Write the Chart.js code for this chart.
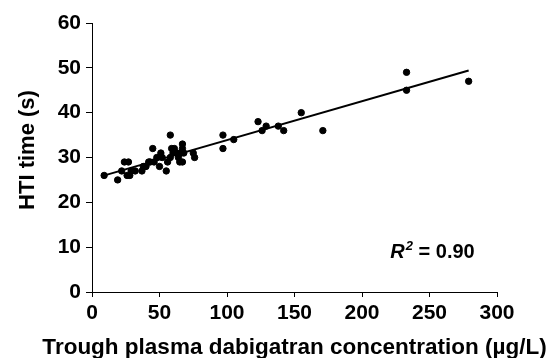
<!DOCTYPE html>
<html>
<head>
<meta charset="utf-8">
<script src="https://cdn.jsdelivr.net/npm/chart.js@4.4.1/dist/chart.umd.min.js"></script>
<style>
    html, body { margin: 0; padding: 0; background: #fff; }
    #wrap { width: 554px; height: 358px; }
</style>
</head>
<body>
<div id="wrap"><canvas id="scatterChart" width="554" height="358"></canvas></div>
<script>
// trough concentration (ug/L) and HTI time (s)
const concValues = [9, 19, 22, 24, 27, 26, 28, 29, 32, 37, 38, 40, 42, 43, 45, 46, 48, 50, 51, 52,
    55, 56, 58, 58, 59, 60, 61, 63, 64, 65, 66, 67, 67, 68, 67, 75, 76, 97, 97, 105,
    123, 126, 129, 138, 142, 155, 171, 233, 233, 279];
const htiValues = [26, 25, 27, 29, 29, 26, 26, 27, 27, 27, 28, 28, 29, 29, 32, 29, 30, 28, 31, 30,
    27, 29, 35, 30, 32, 31, 32, 31, 30, 29, 31, 33, 32, 31, 29, 31, 30, 35, 32, 34,
    38, 36, 37, 37, 36, 40, 36, 49, 45, 47];

// regression line end points
const fitX = [8, 279];
const fitY = [25.9, 49.4];

const xTicks = [0, 50, 100, 150, 200, 250, 300];
const yTicks = [0, 10, 20, 30, 40, 50, 60];
const rSquared = '0.90';
const xTitle = 'Trough plasma dabigatran concentration (µg/L)';
const yTitle = 'HTI time (s)';

const points = concValues.map((x, i) => ({ x: x, y: htiValues[i] }));
const fitLine = fitX.map((x, i) => ({ x: x, y: fitY[i] }));

const fontFamily = 'Liberation Sans, Arial, sans-serif';
const tickFont = { family: fontFamily, size: 21, weight: 'bold' };

// axis titles drawn by hand so chart.js does not squeeze them to the plot width
const axisTitles = {
    id: 'axisTitles',
    afterDraw(chart) {
        const ctx = chart.ctx;
        const area = chart.chartArea;
        ctx.save();
        ctx.fillStyle = '#000';
        ctx.textAlign = 'center';
        ctx.textBaseline = 'alphabetic';
        ctx.font = 'bold 22.5px ' + fontFamily;
        ctx.fillText(xTitle, (area.left + area.right) / 2, 354);
        ctx.translate(34, 150);
        ctx.rotate(-Math.PI / 2);
        ctx.font = 'bold 22px ' + fontFamily;
        ctx.fillText(yTitle, 0, 0);
        ctx.restore();
    }
};

const r2Label = {
    id: 'r2Label',
    afterDraw(chart) {
        const ctx = chart.ctx;
        const x = chart.scales.x.getPixelForValue(221);
        const y = chart.scales.y.getPixelForValue(7.6);
        ctx.save();
        ctx.fillStyle = '#000';
        ctx.textBaseline = 'alphabetic';
        ctx.font = 'italic bold 20px ' + fontFamily;
        ctx.fillText('R', x, y);
        let w = ctx.measureText('R').width;
        ctx.font = 'italic bold 13px ' + fontFamily;
        ctx.fillText('2', x + w + 1, y - 8);
        w += ctx.measureText('2').width + 1;
        ctx.font = 'bold 20px ' + fontFamily;
        ctx.fillText(' = ' + rSquared, x + w, y);
        ctx.restore();
    }
};

new Chart(document.getElementById('scatterChart'), {
    type: 'scatter',
    data: {
        datasets: [{
            data: points,
            backgroundColor: '#000',
            borderColor: '#000',
            pointRadius: 3.2,
            pointHoverRadius: 3.2
        }, {
            data: fitLine,
            showLine: true,
            borderColor: '#000',
            borderWidth: 2,
            pointRadius: 0,
            fill: false
        }]
    },
    options: {
        responsive: false,
        animation: false,
        layout: { padding: { left: 0, right: 57, top: 23, bottom: 0 } },
        plugins: {
            legend: { display: false },
            tooltip: { enabled: false }
        },
        scales: {
            x: {
                type: 'linear',
                min: 0,
                max: 300,
                afterBuildTicks: axis => { axis.ticks = xTicks.map(v => ({ value: v })); },
                afterFit: axis => { axis.height = 66; },
                border: { display: true, color: '#000', width: 1 },
                grid: { drawOnChartArea: false, drawTicks: true, tickLength: 5, color: '#000' },
                ticks: { color: '#000', font: tickFont, padding: 4, maxRotation: 0 }
            },
            y: {
                type: 'linear',
                min: 0,
                max: 60,
                afterBuildTicks: axis => { axis.ticks = yTicks.map(v => ({ value: v })); },
                afterFit: axis => { axis.width = 92; },
                border: { display: true, color: '#000', width: 1 },
                grid: { drawOnChartArea: false, drawTicks: true, tickLength: 6, color: '#000' },
                ticks: { color: '#000', font: tickFont, padding: 5 }
            }
        }
    },
    plugins: [axisTitles, r2Label]
});
</script>
</body>
</html>
